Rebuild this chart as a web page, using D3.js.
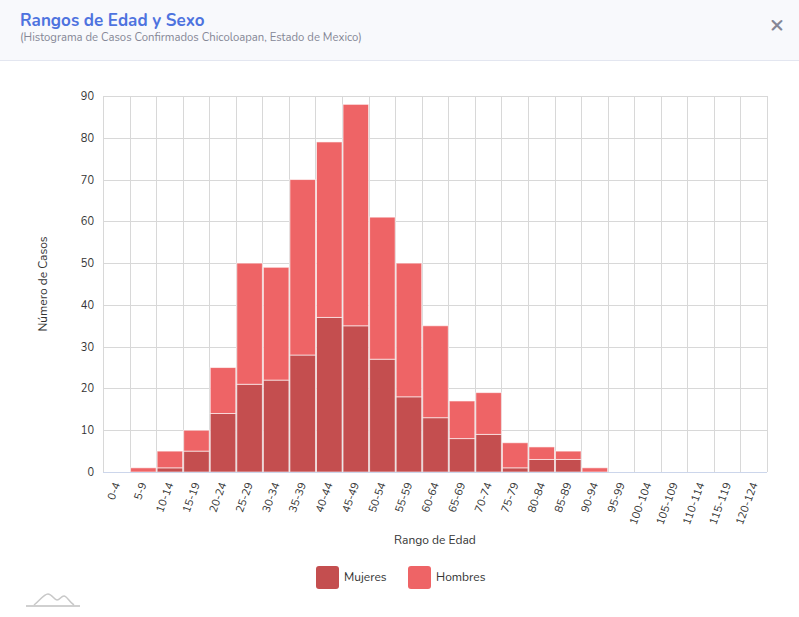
<!DOCTYPE html>
<html><head><meta charset="utf-8">
<script src="https://cdn.jsdelivr.net/npm/d3@7"></script>
<style>
body{margin:0;background:#fff;font-family:Nunito,Lato,"Open Sans",sans-serif;}
</style></head>
<body>
<svg id="c" width="799" height="617"></svg>
<script>
const categories = ["0-4","5-9","10-14","15-19","20-24","25-29","30-34","35-39","40-44","45-49","50-54","55-59","60-64","65-69","70-74","75-79","80-84","85-89","90-94","95-99","100-104","105-109","110-114","115-119","120-124"];
const mujeres = [0,0,1,5,14,21,22,28,37,35,27,18,13,8,9,1,3,3,0,0,0,0,0,0,0];
const hombres = [0,1,4,5,11,29,27,42,42,53,34,32,22,9,10,6,3,2,1,0,0,0,0,0,0];
const yTicks = [0,10,20,30,40,50,60,70,80,90];
const seriesNames = ["Mujeres","Hombres"];
const colors = ["#c44e4f","#ee6466"];

const svg = d3.select("#c");
// header
svg.append("rect").attr("x",0).attr("y",0).attr("width",799).attr("height",60).attr("fill","#f8f9fc");
svg.append("line").attr("x1",0).attr("x2",799).attr("y1",60.5).attr("y2",60.5).attr("stroke","#e3e6f0");
svg.append("text").attr("x",20).attr("y",26).text("Rangos de Edad y Sexo")
  .attr("font-size",17).attr("font-weight",700).attr("fill","#4e73df");
svg.append("text").attr("x",20).attr("y",41).text("(Histograma de Casos Confirmados Chicoloapan, Estado de Mexico)")
  .attr("font-size",11.3).attr("fill","#858796");
svg.append("text").attr("x",777).attr("y",32).attr("text-anchor","middle").text("×")
  .attr("font-size",24).attr("font-weight",700).attr("fill","#858796");

const m = {l:103, r:767, t:96, b:472};
const x = d3.scaleBand().domain(categories).range([m.l,m.r]).paddingInner(0).paddingOuter(0);
const y = d3.scaleLinear().domain([0,90]).range([m.b,m.t]);

const g = svg.append("g");
// grid
g.selectAll(".hg").data(yTicks).join("line")
  .attr("x1",m.l).attr("x2",m.r).attr("y1",d=>Math.round(y(d))+0.5).attr("y2",d=>Math.round(y(d))+0.5)
  .attr("stroke","#d8d8d8");
const vb = categories.map(c=>x(c)).concat([m.r]);
g.selectAll(".vg").data(vb).join("line")
  .attr("x1",d=>Math.round(d)+0.5).attr("x2",d=>Math.round(d)+0.5).attr("y1",m.t).attr("y2",m.b)
  .attr("stroke","#d8d8d8");

// stacked bars
const rows = categories.map((c,i)=>({cat:c, Mujeres:mujeres[i], Hombres:hombres[i]}));
const stack = d3.stack().keys(seriesNames)(rows);
stack.forEach((s,si)=>{
  g.append("g").selectAll("rect").data(s.filter(d=>d[1]>d[0])).join("rect")
    .attr("x",d=>x(d.data.cat)+1).attr("width",x.bandwidth()-1)
    .attr("y",d=>y(d[1])).attr("height",d=>y(d[0])-y(d[1]))
    .attr("fill",colors[si]).attr("stroke","#fff").attr("stroke-width",1).attr("stroke-opacity",0.6);
});
// axis line
g.append("line").attr("x1",m.l).attr("x2",m.r).attr("y1",m.b+0.5).attr("y2",m.b+0.5).attr("stroke","#ccd6eb");

// y axis
const ya = svg.append("g").attr("transform",`translate(${m.l},0)`)
  .call(d3.axisLeft(y).tickValues(yTicks).tickSize(0).tickPadding(9));
ya.select(".domain").remove();
ya.selectAll("text").attr("font-size",11).attr("fill","#333").attr("font-family","Nunito,Lato,sans-serif");

// x axis
const xa = svg.append("g").attr("transform",`translate(0,${m.b})`)
  .call(d3.axisBottom(x).tickSize(0));
xa.select(".domain").remove();
xa.selectAll("text").attr("font-size",11).attr("fill","#333").attr("font-family","Nunito,Lato,sans-serif")
  .attr("text-anchor","end").attr("dy",0).attr("y",0)
  .attr("transform","translate(4,12) rotate(-70)");

// axis titles
svg.append("text").attr("transform","translate(47,284) rotate(-90)").attr("text-anchor","middle")
  .text("Número de Casos").attr("font-size",12).attr("fill","#333");
svg.append("text").attr("x",435).attr("y",544).attr("text-anchor","middle")
  .text("Rango de Edad").attr("font-size",12).attr("fill","#333");

// legend
const leg = svg.append("g");
const lx = [316,408];
seriesNames.forEach((n,i)=>{
  leg.append("rect").attr("x",lx[i]).attr("y",566).attr("width",23).attr("height",23).attr("rx",3)
    .attr("fill",colors[i]);
  leg.append("text").attr("x",lx[i]+28).attr("y",581).text(n).attr("font-size",12).attr("fill","#333");
});

// logo
svg.append("path").attr("d","M26,606 L80,606").attr("stroke","#d0d0d0").attr("stroke-width",2);
svg.append("path").attr("d","M34,605 C40,600 44,594 48,594 C52,594 54,600 57,600 C60,600 61,596 64,596 C67,596 69,602 74,605")
  .attr("fill","none").attr("stroke","#c8c8c8").attr("stroke-width",1.5);
</script>
</body></html>
